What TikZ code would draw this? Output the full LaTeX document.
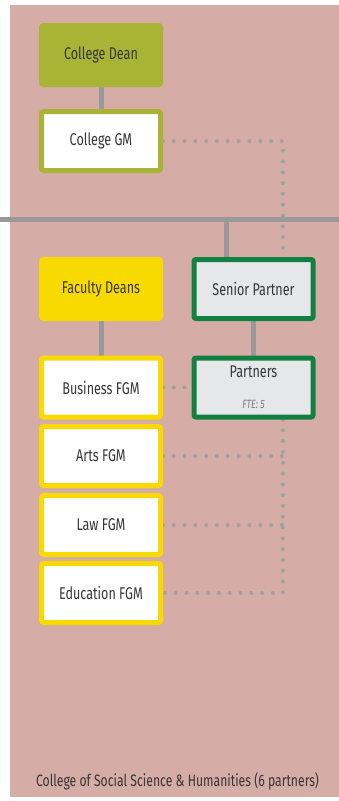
\documentclass[tikz,border=0pt]{standalone}
\usepackage{fontspec}
\setmainfont{Fira Sans}[FakeStretch=0.74]
\usepackage{tikz}
\usetikzlibrary{backgrounds}

\definecolor{bgpink}{RGB}{213,172,166}
\definecolor{olive}{RGB}{169,180,54}
\definecolor{deanyellow}{RGB}{248,218,0}
\definecolor{partnergreen}{RGB}{17,128,64}
\definecolor{boxgrey}{RGB}{230,231,232}
\definecolor{linegrey}{RGB}{153,153,153}
\definecolor{dotgrey}{RGB}{160,160,160}
\definecolor{txtgrey}{RGB}{55,55,55}
\definecolor{ftegrey}{RGB}{125,125,125}

\tikzset{
  box/.style={rectangle, rounded corners=2pt, minimum width=119pt, minimum height=59pt,
    line width=5pt, inner sep=0pt, text=txtgrey, font=\fontsize{17}{19}\selectfont},
  deanbox/.style={box, fill=olive, draw=olive},
  gmbox/.style={box, fill=white, draw=olive},
  facbox/.style={box, fill=deanyellow, draw=deanyellow},
  fgmbox/.style={box, fill=white, draw=deanyellow},
  partnerbox/.style={box, fill=boxgrey, draw=partnergreen},
  link/.style={line width=5pt, draw=linegrey},
  dots/.style={line width=4pt, draw=dotgrey, line cap=round, dash pattern=on 0pt off 10.8pt}
}

\begin{document}
\begin{tikzpicture}[x=1pt,y=-1pt]
\useasboundingbox (0,0) rectangle (339,801);

% college
\node[deanbox] (dean) at (101,55) {College Dean};
\node[gmbox] (gm) at (101,141) {College GM};

% faculties
\node[facbox] (fdeans) at (101,289) {Faculty Deans};
\node[fgmbox] (business) at (101,387.5) {Business FGM};
\node[fgmbox] (arts) at (101,456) {Arts FGM};
\node[fgmbox] (law) at (101,525) {Law FGM};
\node[fgmbox] (edu) at (101,593) {Education FGM};

% partners
\node[partnerbox, align=center] (senior) at (253.5,289) {Senior Partner};
\node[partnerbox, align=center] (partners) at (253.5,387.5)
  {Partners\\[12pt]{\fontsize{12}{13}\selectfont\itshape\color{ftegrey} FTE: 5}};

\node[text=txtgrey, font=\fontsize{16.5}{18}\selectfont] (caption) at (177.5,781)
  {College of Social Science \& Humanities (6 partners)};

\coordinate (bar) at (226,219);
\coordinate (dotx) at (283,0);

\begin{scope}[on background layer]
\fill[bgpink] (10,5) rectangle (339,797);
\draw[link] (0,219) -- (339,219);
\draw[link] (bar) -- (senior.north -| bar);
\draw[link] (dean) -- (gm);
\draw[link] (fdeans) -- (business);
\draw[link] (senior) -- (partners);
\draw[dots] (gm.east) -| (senior.north -| dotx);
\draw[dots] (business.east) -- (partners.west);
\draw[dots] (partners.south -| dotx) |- (edu.east);
\draw[dots] (arts.east) -- (arts.east -| dotx);
\draw[dots] (law.east) -- (law.east -| dotx);
\end{scope}
\end{tikzpicture}
\end{document}
